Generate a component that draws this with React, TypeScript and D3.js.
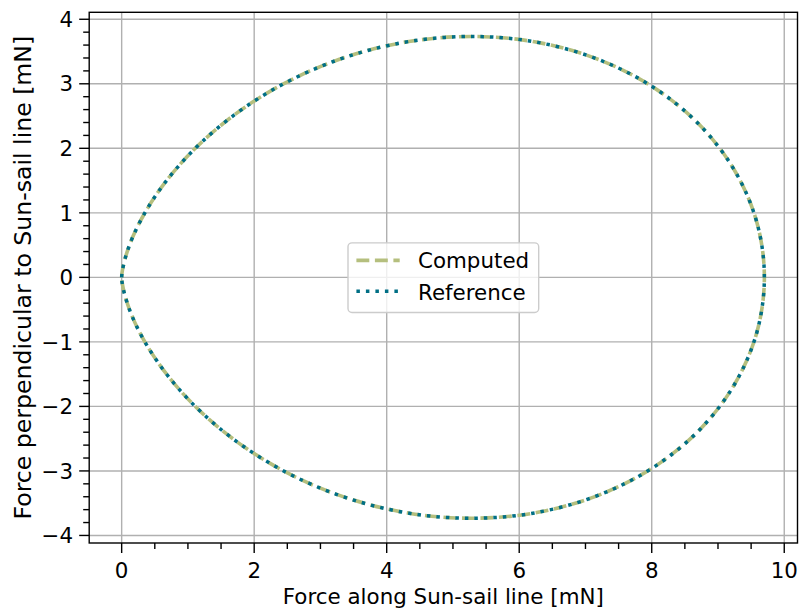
import React from "react";
import * as d3 from "d3";

// Upper and lower branch of the force polar, in mN
const computedX = [0, 0.006, 0.051, 0.168, 0.388, 0.732, 1.212, 1.83, 2.576, 3.43, 4.36, 5.332, 6.3, 7.221, 8.049, 8.742, 9.264, 9.59, 9.7,
  9.59, 9.264, 8.742, 8.049, 7.221, 6.3, 5.332, 4.36, 3.43, 2.576, 1.83, 1.212, 0.732, 0.388, 0.168, 0.051, 0.006, 0];
const computedY = [0, 0.074, 0.288, 0.628, 1.066, 1.57, 2.1, 2.614, 3.07, 3.429, 3.659, 3.733, 3.638, 3.367, 2.929, 2.342, 1.633, 0.839, 0,
  -0.839, -1.633, -2.342, -2.929, -3.367, -3.638, -3.733, -3.659, -3.429, -3.07, -2.614, -2.1, -1.57, -1.066, -0.628, -0.288, -0.074, 0];
const referenceX = [0, 0.006, 0.051, 0.168, 0.388, 0.732, 1.212, 1.83, 2.576, 3.43, 4.36, 5.332, 6.3, 7.221, 8.049, 8.742, 9.264, 9.59, 9.7,
  9.59, 9.264, 8.742, 8.049, 7.221, 6.3, 5.332, 4.36, 3.43, 2.576, 1.83, 1.212, 0.732, 0.388, 0.168, 0.051, 0.006, 0];
const referenceY = [0, 0.074, 0.288, 0.628, 1.066, 1.57, 2.1, 2.614, 3.07, 3.429, 3.659, 3.733, 3.638, 3.367, 2.929, 2.342, 1.633, 0.839, 0,
  -0.839, -1.633, -2.342, -2.929, -3.367, -3.638, -3.733, -3.659, -3.429, -3.07, -2.614, -2.1, -1.57, -1.066, -0.628, -0.288, -0.074, 0];

const xTicks = [0, 2, 4, 6, 8, 10];
const yTicks = [-4, -3, -2, -1, 0, 1, 2, 3, 4];
const xMinor = d3.range(-0.5, 10.25, 0.5);
const yMinor = d3.range(-4, 4.05, 0.2).map((v) => Math.round(v * 10) / 10);

const seriesNames = ["Computed", "Reference"];

const FONT = "DejaVu Sans, sans-serif";
const FS = 21.4;
const COMP_COLOR = "#b5bf7e";
const REF_COLOR = "#006f85";

export default function App() {
  const left = 89.2, right = 797.5, top = 12.3, bottom = 543;
  const x = d3.scaleLinear().domain([-0.49, 10.2]).range([left, right]);
  const y = d3.scaleLinear().domain([-4.117, 4.108]).range([bottom, top]);
  const fmt = (v: number) => (v < 0 ? "\u2212" + Math.abs(v) : String(v));

  const line = d3
    .line<[number, number]>()
    .x((d) => x(d[0]))
    .y((d) => y(d[1]))
    .curve(d3.curveCatmullRom.alpha(0.5));

  const comp = computedX.map((v, i) => [v, computedY[i]] as [number, number]);
  const ref = referenceX.map((v, i) => [v, referenceY[i]] as [number, number]);

  const xMinorF = xMinor.filter((v) => x(v) >= left - 0.1 && x(v) <= right + 0.1 && !xTicks.includes(v));
  const yMinorF = yMinor.filter((v) => !yTicks.includes(v) && y(v) >= top && y(v) <= bottom);

  const cx = (left + right) / 2;
  const cy = (top + bottom) / 2;
  const lw = 190.7, lh = 69.6;
  const lx = cx - lw / 2, ly = cy - lh / 2;

  return (
    <svg width={799} height={610} style={{ position: "absolute", left: 0, top: 0, background: "#fff" }} fontFamily={FONT}>
      <rect x={0} y={0} width={799} height={610} fill="#fff" />
      <defs>
        <clipPath id="plot">
          <rect x={left} y={top} width={right - left} height={bottom - top} />
        </clipPath>
      </defs>
      {/* grid */}
      <g stroke="#b0b0b0" strokeWidth={1.4}>
        {xTicks.map((t) => (
          <line key={"gx" + t} x1={x(t)} x2={x(t)} y1={top} y2={bottom} />
        ))}
        {yTicks.map((t) => (
          <line key={"gy" + t} x1={left} x2={right} y1={y(t)} y2={y(t)} />
        ))}
      </g>
      {/* series */}
      <g clipPath="url(#plot)" fill="none">
        <path d={line(comp) || ""} stroke={COMP_COLOR} strokeWidth={3.6} strokeDasharray="12.9 5.6" />
        <path d={line(ref) || ""} stroke={REF_COLOR} strokeWidth={3.5} strokeDasharray="3.5 6.0" />
      </g>
      {/* frame */}
      <rect x={left} y={top} width={right - left} height={bottom - top} fill="none" stroke="#000" strokeWidth={1.4} />
      {/* ticks */}
      <g stroke="#000" strokeWidth={1.4}>
        {xTicks.map((t) => (
          <line key={"tx" + t} x1={x(t)} x2={x(t)} y1={bottom} y2={bottom + 10} />
        ))}
        {xMinorF.map((t) => (
          <line key={"mx" + t} x1={x(t)} x2={x(t)} y1={bottom} y2={bottom + 6} />
        ))}
        {yTicks.map((t) => (
          <line key={"ty" + t} x1={left - 10} x2={left} y1={y(t)} y2={y(t)} />
        ))}
        {yMinorF.map((t) => (
          <line key={"my" + t} x1={left - 6} x2={left} y1={y(t)} y2={y(t)} />
        ))}
      </g>
      {/* tick labels */}
      <g fontSize={FS} fill="#000">
        {xTicks.map((t) => (
          <text key={"lx" + t} x={x(t)} y={577.5} textAnchor="middle">
            {fmt(t)}
          </text>
        ))}
        {yTicks.map((t) => (
          <text key={"ly" + t} x={73} y={y(t)} dy="0.36em" textAnchor="end">
            {fmt(t)}
          </text>
        ))}
      </g>
      {/* axis labels */}
      <text x={cx} y={604} textAnchor="middle" fontSize={FS}>
        Force along Sun-sail line [mN]
      </text>
      <text transform={`translate(30.5,${cy}) rotate(-90)`} textAnchor="middle" fontSize={23.6}>
        Force perpendicular to Sun-sail line [mN]
      </text>
      {/* legend */}
      <g>
        <rect x={lx} y={ly} width={lw} height={lh} rx={4} fill="#fff" fillOpacity={0.8} stroke="#cccccc" strokeWidth={1.4} />
        <line x1={lx + 8.4} x2={lx + 51.7} y1={ly + 17.5} y2={ly + 17.5} stroke={COMP_COLOR} strokeWidth={3.6} strokeDasharray="12.9 5.6" />
        <line x1={lx + 8.4} x2={lx + 51.7} y1={ly + 48.5} y2={ly + 48.5} stroke={REF_COLOR} strokeWidth={3.5} strokeDasharray="3.5 6.0" />
        <text x={lx + 70} y={ly + 25.5} fontSize={FS}>
          {seriesNames[0]}
        </text>
        <text x={lx + 70} y={ly + 57.5} fontSize={FS}>
          {seriesNames[1]}
        </text>
      </g>
    </svg>
  );
}
